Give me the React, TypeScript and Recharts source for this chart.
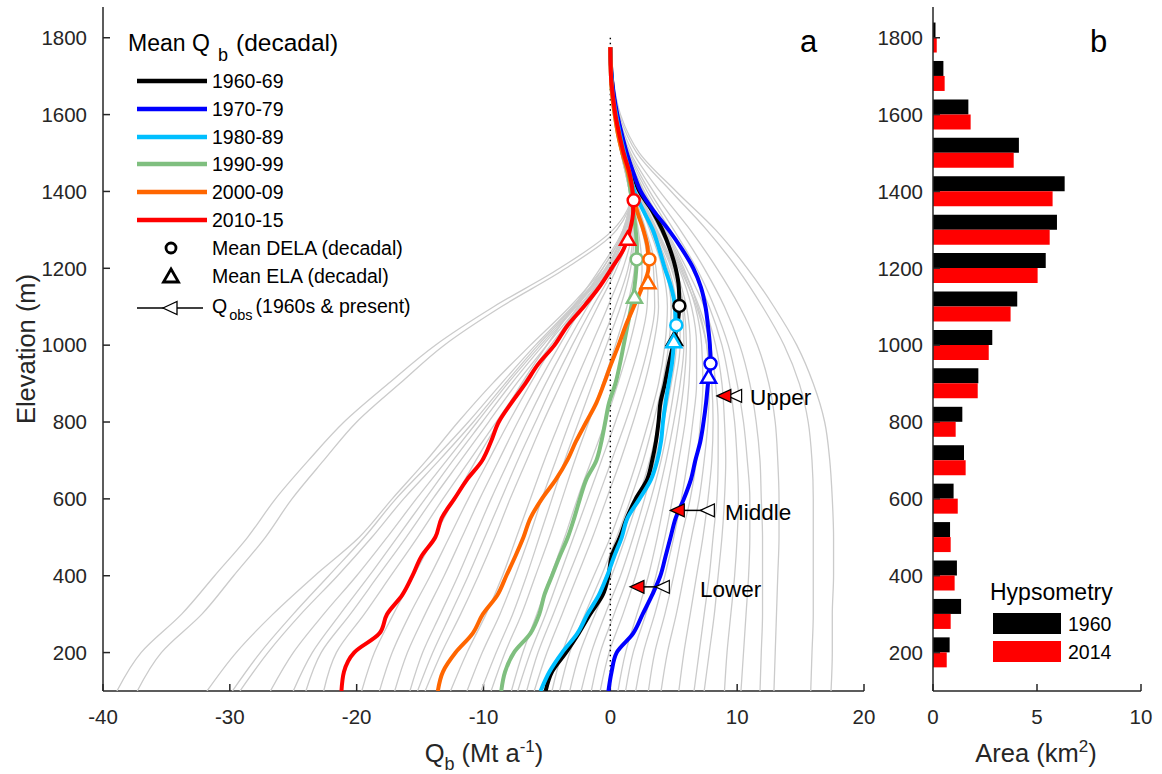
import React from "react";
import { ScatterChart, Scatter, XAxis, YAxis, BarChart, Bar } from "recharts";

const FONT = "'Liberation Sans', Arial, Helvetica, sans-serif";
const AXIS_COLOR = "#262626";

// decadal mean Qb profiles (Mt/a) sampled at these elevations (m)
const DECADES = ["1960-69", "1970-79", "1980-89", "1990-99", "2000-09", "2010-15"];
const DECADE_COLORS = ["#000000", "#0000ff", "#00bfff", "#7fbf7f", "#ff6600", "#ff0000"];
const ELEV_MEAN = [
  100, 150, 200, 250, 300, 350, 400, 450, 500, 550, 600, 650, 700, 750, 800, 850, 900,
  950, 1000, 1050, 1100, 1150, 1200, 1250, 1300, 1350, 1400, 1450, 1500, 1550, 1600,
  1650, 1700, 1775,
];
const Q_1960S = [
  -5.1, -4.6, -3.5, -2.5, -1.6, -0.6, -0.15, 0.1, 0.75, 1.3, 2.0, 2.9, 3.3, 3.6, 3.8,
  3.95, 4.3, 4.6, 4.95, 5.25, 5.44, 5.4, 5.15, 4.7, 4.1, 3.3, 2.3, 1.75, 1.25, 0.85,
  0.5, 0.25, 0.1, 0,
];
const Q_1970S = [
  -0.15, 0.1, 0.5, 1.8, 2.55, 3.3, 3.95, 4.35, 4.75, 5.15, 5.8, 6.35, 6.7, 7.1, 7.35,
  7.55, 7.7, 7.9, 7.85, 7.7, 7.5, 7.15, 6.55, 5.65, 4.6, 3.4, 2.4, 1.8, 1.3, 0.9, 0.55,
  0.28, 0.1, 0,
];
const Q_1980S = [
  -5.5, -4.8, -3.8, -2.6, -1.8, -0.9, -0.25, 0.3, 0.9, 1.35, 2.3, 3.2, 3.7, 4.0, 4.15,
  4.35, 4.6, 4.85, 5.0, 5.15, 5.1, 4.8, 4.3, 3.85, 3.35, 2.6, 1.9, 1.5, 1.1, 0.75, 0.45,
  0.2, 0.08, 0,
];
const Q_1990S = [
  -8.6, -8.3, -7.6, -6.3, -5.6, -5.2, -4.6, -4.0, -3.35, -2.85, -2.4, -1.9, -1.1, -0.7,
  -0.4, -0.1, 0.4, 0.75, 1.05, 1.35, 1.65, 1.9, 2.05, 2.1, 2.0, 1.8, 1.6, 1.35, 0.95,
  0.6, 0.35, 0.15, 0.05, 0,
];
const Q_2000S = [
  -13.6, -13.2, -12.2, -10.85, -10.05, -8.9, -8.2, -7.5, -6.85, -6.3, -5.4, -4.3, -3.4,
  -2.7, -1.9, -1.1, -0.5, 0.05, 0.65, 1.2, 1.85, 2.5, 3.0, 2.95, 2.6, 2.1, 1.75, 1.4,
  0.95, 0.6, 0.35, 0.15, 0.05, 0,
];
const Q_2010S = [
  -21.2, -21.0, -20.2, -18.2, -17.6, -16.4, -15.6, -14.9, -13.8, -13.3, -12.3, -11.3,
  -10.1, -9.4, -8.8, -7.8, -6.7, -5.7, -4.4, -3.4, -2.1, -0.9, 0.1, 1.05, 1.55, 1.8,
  1.75, 1.5, 1.05, 0.7, 0.4, 0.2, 0.05, 0,
];
const MEAN_Q = [Q_1960S, Q_1970S, Q_1980S, Q_1990S, Q_2000S, Q_2010S];

// decadal mean DELA and ELA markers
const DELA_Q = [5.44, 7.9, 5.2, 2.08, 3.08, 1.84];
const DELA_ELEV = [1102, 952, 1052, 1223, 1223, 1377];
const ELA_Q = [5.05, 7.75, 5.0, 1.9, 2.97, 1.36];
const ELA_ELEV = [1016, 918, 1010, 1126, 1164, 1277];

// observed fluxes at the three gates (1960s vs present)
const QOBS_LABELS = ["Upper", "Middle", "Lower"];
const QOBS_ELEV = [868, 570, 371];
const QOBS_1960S = [9.8, 7.65, 4.1];
const QOBS_PRESENT = [8.95, 5.28, 2.1];

// annual Qb profiles (grey), sampled at these elevations
const ELEV_GRAY = [100, 200, 300, 400, 500, 600, 700, 800, 900, 1000, 1100, 1200, 1300, 1400, 1500, 1600, 1700, 1775];
const GRAY_PROFILES = [
  [-38.9, -37.0, -33.8, -31.2, -28.6, -26.4, -23.8, -21.0, -17.5, -13.8, -9.2, -4.0, 0.2, 1.7, 1.1, 0.4, 0.1, 0],
  [-37.3, -35.4, -32.2, -29.7, -27.2, -25.1, -22.6, -20.0, -16.6, -13.1, -8.6, -3.5, 0.5, 1.7, 1.1, 0.4, 0.1, 0],
  [-31.8, -29.5, -26.6, -23.3, -19.8, -17.2, -14.5, -12.0, -9.3, -6.3, -3.2, -0.6, 1.0, 1.6, 1.1, 0.45, 0.1, 0],
  [-29.8, -27.6, -25.0, -22.2, -19.4, -16.9, -14.0, -11.2, -8.6, -5.9, -3.0, -0.4, 1.1, 1.6, 1.0, 0.4, 0.1, 0],
  [-29.2, -27.0, -24.4, -21.5, -18.8, -16.3, -13.5, -10.8, -8.3, -5.7, -2.9, -0.3, 1.1, 1.6, 1.0, 0.4, 0.1, 0],
  [-26.8, -25.0, -22.6, -20.0, -17.6, -15.3, -12.9, -10.5, -8.1, -5.5, -2.8, -0.3, 1.1, 1.6, 1.0, 0.4, 0.1, 0],
  [-25.0, -23.5, -21.3, -19.0, -16.8, -14.6, -12.4, -10.1, -7.8, -5.3, -2.7, -0.2, 1.1, 1.6, 1.0, 0.4, 0.1, 0],
  [-24.0, -22.8, -20.5, -18.3, -16.1, -14.0, -11.8, -9.6, -7.4, -5.0, -2.5, -0.1, 1.2, 1.6, 1.0, 0.4, 0.1, 0],
  [-22.6, -21.6, -19.4, -17.3, -15.2, -13.2, -11.1, -9.0, -6.9, -4.7, -2.4, 0.0, 1.2, 1.6, 1.0, 0.4, 0.1, 0],
  [-19.6, -18.6, -17.1, -15.5, -13.9, -12.3, -10.6, -8.8, -7.0, -5.0, -2.9, -0.8, 1.0, 1.6, 0.95, 0.35, 0.08, 0],
  [-18.2, -17.2, -15.8, -14.2, -12.7, -11.2, -9.6, -8.0, -6.3, -4.5, -2.6, -0.6, 1.1, 1.6, 0.95, 0.35, 0.08, 0],
  [-17.0, -16.0, -14.6, -13.1, -11.7, -10.3, -8.8, -7.3, -5.7, -4.0, -2.2, -0.3, 1.2, 1.6, 0.95, 0.35, 0.08, 0],
  [-15.8, -14.8, -13.4, -12.0, -10.7, -9.4, -8.0, -6.6, -5.1, -3.5, -1.8, 0.0, 1.3, 1.6, 0.9, 0.3, 0.08, 0],
  [-15.2, -14.0, -12.6, -11.2, -9.9, -8.6, -7.3, -5.9, -4.5, -3.0, -1.4, 0.3, 1.4, 1.6, 0.9, 0.3, 0.08, 0],
  [-14.6, -13.3, -11.8, -10.4, -9.1, -7.9, -6.6, -5.3, -3.9, -2.5, -1.0, 0.5, 1.5, 1.6, 0.9, 0.3, 0.08, 0],
  [-12.6, -11.3, -9.8, -8.5, -7.4, -6.3, -5.2, -4.0, -2.8, -1.5, -0.2, 1.0, 1.7, 1.5, 0.85, 0.3, 0.08, 0],
  [-11.3, -10.1, -8.7, -7.5, -6.4, -5.4, -4.3, -3.2, -2.0, -0.8, 0.4, 1.4, 1.8, 1.5, 0.85, 0.3, 0.08, 0],
  [-10.2, -9.0, -7.7, -6.6, -5.6, -4.6, -3.6, -2.5, -1.4, -0.3, 0.8, 1.6, 1.9, 1.5, 0.85, 0.3, 0.08, 0],
  [-9.4, -8.3, -7.0, -5.9, -4.8, -3.8, -2.8, -1.7, -0.6, 0.4, 1.3, 1.9, 2.0, 1.5, 0.85, 0.3, 0.08, 0],
  [-7.8, -6.9, -5.8, -4.7, -3.6, -2.6, -1.5, -0.4, 0.6, 1.5, 2.2, 2.5, 2.2, 1.6, 0.9, 0.35, 0.1, 0],
  [-7.3, -6.3, -5.1, -4.0, -2.9, -1.8, -0.7, 0.4, 1.4, 2.3, 2.9, 3.0, 2.5, 1.7, 0.9, 0.35, 0.1, 0],
  [-6.6, -5.7, -4.5, -3.3, -2.1, -1.0, 0.1, 1.2, 2.2, 3.0, 3.5, 3.4, 2.7, 1.8, 0.95, 0.35, 0.1, 0],
  [-6.0, -5.0, -3.8, -2.6, -1.4, -0.3, 0.8, 1.8, 2.7, 3.4, 3.8, 3.6, 2.8, 1.8, 0.95, 0.35, 0.1, 0],
  [-4.6, -3.8, -2.6, -1.3, 0.0, 1.1, 2.1, 3.0, 3.8, 4.3, 4.5, 4.1, 3.1, 2.0, 1.0, 0.35, 0.1, 0],
  [-4.0, -3.2, -2.0, -0.7, 0.5, 1.6, 2.6, 3.4, 4.1, 4.6, 4.8, 4.3, 3.2, 2.0, 1.0, 0.4, 0.1, 0],
  [-3.2, -2.4, -1.2, 0.1, 1.2, 2.2, 3.1, 3.8, 4.4, 4.9, 5.0, 4.5, 3.3, 2.1, 1.1, 0.4, 0.1, 0],
  [-2.3, -1.5, -0.4, 0.8, 1.8, 2.7, 3.5, 4.2, 4.8, 5.2, 5.2, 4.6, 3.4, 2.1, 1.1, 0.4, 0.1, 0],
  [-1.5, -0.8, 0.3, 1.4, 2.3, 3.2, 4.0, 4.6, 5.1, 5.5, 5.5, 4.8, 3.5, 2.2, 1.1, 0.4, 0.1, 0],
  [-0.8, -0.1, 1.0, 2.0, 2.9, 3.7, 4.4, 5.0, 5.5, 5.8, 5.7, 4.9, 3.6, 2.2, 1.1, 0.4, 0.1, 0],
  [0.6, 1.2, 2.1, 3.0, 3.7, 4.3, 4.9, 5.4, 5.8, 6.0, 5.8, 5.0, 3.6, 2.2, 1.1, 0.4, 0.1, 0],
  [1.2, 1.8, 2.8, 3.6, 4.3, 4.9, 5.4, 5.9, 6.2, 6.3, 6.0, 5.1, 3.7, 2.3, 1.2, 0.4, 0.1, 0],
  [2.0, 2.6, 3.5, 4.3, 5.0, 5.6, 6.1, 6.5, 6.8, 6.8, 6.4, 5.4, 3.9, 2.4, 1.2, 0.4, 0.1, 0],
  [3.0, 3.5, 4.3, 5.0, 5.6, 6.3, 6.8, 7.1, 7.3, 7.2, 6.7, 5.6, 4.0, 2.5, 1.3, 0.45, 0.1, 0],
  [4.0, 4.5, 5.2, 5.8, 6.4, 7.0, 7.4, 7.7, 7.8, 7.6, 6.9, 5.8, 4.3, 2.6, 1.3, 0.45, 0.1, 0],
  [5.4, 5.8, 6.3, 6.8, 7.3, 7.7, 8.0, 8.1, 8.0, 7.6, 6.8, 5.5, 4.1, 2.5, 1.2, 0.4, 0.1, 0],
  [6.6, 7.0, 7.4, 7.8, 8.1, 8.4, 8.5, 8.5, 8.3, 7.9, 7.0, 5.7, 4.2, 2.6, 1.3, 0.45, 0.1, 0],
  [7.4, 7.8, 8.2, 8.5, 8.8, 9.0, 9.1, 9.0, 8.8, 8.3, 7.4, 6.0, 4.4, 2.7, 1.3, 0.45, 0.1, 0],
  [9.0, 9.2, 9.5, 9.8, 10.0, 10.1, 10.0, 9.8, 9.4, 8.8, 7.8, 6.4, 4.7, 2.9, 1.4, 0.5, 0.12, 0],
  [10.3, 10.5, 10.7, 10.9, 11.0, 11.0, 10.8, 10.5, 10.0, 9.3, 8.2, 6.8, 5.0, 3.1, 1.5, 0.5, 0.12, 0],
  [11.8, 11.9, 12.0, 12.0, 12.0, 11.9, 11.8, 11.5, 11.0, 10.2, 9.0, 7.4, 5.5, 3.4, 1.6, 0.55, 0.15, 0],
  [12.9, 13.0, 13.1, 13.2, 13.3, 13.3, 13.2, 13.0, 12.5, 11.6, 10.2, 8.4, 6.3, 3.9, 1.8, 0.6, 0.15, 0],
  [15.8, 15.9, 16.0, 16.0, 16.0, 16.0, 15.9, 15.6, 14.9, 13.7, 12.0, 10.0, 7.6, 4.8, 2.1, 0.7, 0.2, 0],
  [17.4, 17.5, 17.5, 17.6, 17.6, 17.5, 17.3, 16.9, 16.0, 14.7, 12.9, 10.8, 8.3, 5.2, 2.3, 0.8, 0.2, 0],
];

// hypsometry (km2) per 100 m bin
const HYPSO_ELEV = [1800, 1700, 1600, 1500, 1400, 1300, 1200, 1100, 1000, 900, 800, 700, 600, 500, 400, 300, 200];
const AREA_1960 = [0.12, 0.5, 1.7, 4.13, 6.33, 5.96, 5.42, 4.05, 2.85, 2.18, 1.41, 1.49, 0.99, 0.82, 1.15, 1.35, 0.8];
const AREA_2014 = [0.18, 0.56, 1.81, 3.88, 5.75, 5.61, 5.03, 3.73, 2.68, 2.15, 1.09, 1.57, 1.19, 0.85, 1.04, 0.85, 0.66];

const Q_TICKS = [-40, -30, -20, -10, 0, 10, 20];
const ELEV_TICKS = [200, 400, 600, 800, 1000, 1200, 1400, 1600, 1800];
const AREA_TICKS = [0, 5, 10];
const ELEV_DOMAIN: [number, number] = [100, 1880];

const toPts = (qs: number[], elevs: number[]) =>
  qs.map((q, i) => ({ q, elev: elevs[i] })).reverse();

const hypsoData = HYPSO_ELEV.map((elev, i) => ({ elev, a1960: AREA_1960[i], a2014: AREA_2014[i] }));

const noDot = () => <g />;

const circleShape = (color: string) => (p: any) =>
  <circle cx={p.cx} cy={p.cy} r={6} fill="#fff" stroke={color} strokeWidth={2.5} />;

const triUpShape = (color: string) => (p: any) => (
  <path
    d={`M${p.cx},${p.cy - 7}L${p.cx + 7.5},${p.cy + 6}L${p.cx - 7.5},${p.cy + 6}Z`}
    fill="#fff"
    stroke={color}
    strokeWidth={2.5}
  />
);

const triLeftShape = (fill: string) => (p: any) => (
  <path
    d={`M${p.cx - 7},${p.cy}L${p.cx + 7},${p.cy - 6.5}L${p.cx + 7},${p.cy + 6.5}Z`}
    fill={fill}
    stroke="#000"
    strokeWidth={1.2}
  />
);

const tickStyle = { fill: AXIS_COLOR, fontSize: 20.5, fontFamily: FONT };
const lineStyle = { stroke: AXIS_COLOR, strokeWidth: 1.5 };

function FluxPanel() {
  return (
    <ScatterChart width={880} height={774} margin={{ top: 7, right: 16, bottom: 43, left: 43 }}>
      <XAxis
        type="number" dataKey="q" domain={[-40, 20]} ticks={Q_TICKS} interval={0}
        height={40} tickSize={-7} tickMargin={25} allowDataOverflow
        axisLine={lineStyle} tickLine={lineStyle} tick={tickStyle}
      />
      <XAxis
        xAxisId="top" orientation="top" type="number" domain={[-40, 20]} ticks={Q_TICKS}
        interval={0} height={0} tickSize={-7} tick={false} allowDataOverflow
        axisLine={lineStyle} tickLine={lineStyle}
      />
      <YAxis
        type="number" dataKey="elev" domain={ELEV_DOMAIN} ticks={ELEV_TICKS} interval={0}
        width={60} tickSize={-7} tickMargin={23} allowDataOverflow
        axisLine={lineStyle} tickLine={lineStyle} tick={tickStyle}
      />
      <YAxis
        yAxisId="right" orientation="right" type="number" domain={ELEV_DOMAIN} ticks={ELEV_TICKS}
        interval={0} width={0} tickSize={-7} tick={false} allowDataOverflow
        axisLine={lineStyle} tickLine={lineStyle}
      />

      {GRAY_PROFILES.map((row, i) => (
        <Scatter
          key={"g" + i}
          data={toPts(row, ELEV_GRAY)}
          line={{ stroke: "#cbcbcb", strokeWidth: 1.3 }}
          lineJointType="monotoneY"
          shape={noDot}
          isAnimationActive={false}
        />
      ))}

      <Scatter
        data={[{ q: 0, elev: 1800 }, { q: 0, elev: 100 }]}
        line={{ stroke: "#000", strokeWidth: 1.4, strokeDasharray: "1.5 3.6" }}
        shape={noDot}
        isAnimationActive={false}
      />

      {MEAN_Q.map((qs, i) => (
        <Scatter
          key={"m" + i}
          data={toPts(qs, ELEV_MEAN)}
          line={{ stroke: DECADE_COLORS[i], strokeWidth: 4 }}
          lineJointType="monotoneY"
          shape={noDot}
          isAnimationActive={false}
        />
      ))}

      {DECADES.map((d, i) => (
        <Scatter
          key={"ela" + d}
          data={[{ q: ELA_Q[i], elev: ELA_ELEV[i] }]}
          shape={triUpShape(DECADE_COLORS[i])}
          isAnimationActive={false}
        />
      ))}
      {DECADES.map((d, i) => (
        <Scatter
          key={"dela" + d}
          data={[{ q: DELA_Q[i], elev: DELA_ELEV[i] }]}
          shape={circleShape(DECADE_COLORS[i])}
          isAnimationActive={false}
        />
      ))}

      {QOBS_LABELS.map((name, i) => (
        <Scatter
          key={"qo" + name}
          data={[
            { q: QOBS_PRESENT[i], elev: QOBS_ELEV[i] },
            { q: QOBS_1960S[i], elev: QOBS_ELEV[i] },
          ]}
          line={{ stroke: "#000", strokeWidth: 1.5 }}
          shape={noDot}
          isAnimationActive={false}
        />
      ))}
      <Scatter
        data={QOBS_1960S.map((q, i) => ({ q, elev: QOBS_ELEV[i] }))}
        shape={triLeftShape("#fff")}
        isAnimationActive={false}
      />
      <Scatter
        data={QOBS_PRESENT.map((q, i) => ({ q, elev: QOBS_ELEV[i] }))}
        shape={triLeftShape("#ff0000")}
        isAnimationActive={false}
      />
    </ScatterChart>
  );
}

function HypsoPanel() {
  return (
    <BarChart
      layout="vertical" data={hypsoData} width={302} height={774}
      margin={{ top: 7, right: 21, bottom: 43, left: 23 }}
      barCategoryGap={4} barGap={0}
    >
      <XAxis
        type="number" domain={[0, 10]} ticks={AREA_TICKS} interval={0}
        height={40} tickSize={-7} tickMargin={25} allowDataOverflow
        axisLine={lineStyle} tickLine={lineStyle} tick={tickStyle}
      />
      <XAxis
        xAxisId="top" orientation="top" type="number" domain={[0, 10]} ticks={AREA_TICKS}
        interval={0} height={0} tickSize={-7} tick={false} allowDataOverflow
        axisLine={lineStyle} tickLine={lineStyle}
      />
      <YAxis
        type="number" dataKey="elev" domain={ELEV_DOMAIN} ticks={ELEV_TICKS} interval={0}
        reversed width={50} tickSize={-7} tickMargin={17} allowDataOverflow
        axisLine={lineStyle} tickLine={lineStyle} tick={tickStyle}
      />
      <YAxis
        yAxisId="right" orientation="right" type="number" dataKey="elev" domain={ELEV_DOMAIN}
        ticks={ELEV_TICKS} interval={0} reversed width={0} tickSize={-7} tick={false}
        allowDataOverflow axisLine={lineStyle} tickLine={lineStyle}
      />
      <Bar dataKey="a1960" fill="#000000" isAnimationActive={false} />
      <Bar dataKey="a2014" fill="#ff0000" isAnimationActive={false} />
    </BarChart>
  );
}

const LEG_Y = [81, 109, 137, 164, 192, 220];

function Annotations() {
  return (
    <svg
      width={1162} height={774}
      style={{ position: "absolute", left: 0, top: 0, pointerEvents: "none" }}
      fontFamily={FONT}
    >
      {/* legend of panel a */}
      <text x={128} y={51} fontSize={23} fill="#000">
        Mean Q<tspan x={218} dy={10} fontSize={18}>b</tspan>
        <tspan x={236} dy={-10} fontSize={24.5}>(decadal)</tspan>
      </text>
      {DECADES.map((d, i) => (
        <g key={d}>
          <line x1={137} x2={207} y1={LEG_Y[i]} y2={LEG_Y[i]} stroke={DECADE_COLORS[i]} strokeWidth={4.5} />
          <text x={212} y={LEG_Y[i]} dominantBaseline="central" fontSize={19.5} fill="#000">{d}</text>
        </g>
      ))}
      <circle cx={171} cy={248} r={5} fill="#fff" stroke="#000" strokeWidth={2.8} />
      <text x={212} y={248} dominantBaseline="central" fontSize={19.5}>Mean DELA (decadal)</text>
      <path d="M171,269L178.5,282L163.5,282Z" fill="#fff" stroke="#000" strokeWidth={2.8} />
      <text x={212} y={276} dominantBaseline="central" fontSize={19.5}>Mean ELA (decadal)</text>
      <line x1={137} x2={203} y1={308} y2={308} stroke="#000" strokeWidth={1.5} />
      <path d="M163,308L177,301.5L177,314.5Z" fill="#fff" stroke="#000" strokeWidth={1.3} />
      <text x={212} y={313} fontSize={19.5}>
        Q<tspan dx={2} dy={7} fontSize={14.5}>obs</tspan>
        <tspan dy={-7} dx={3}>(1960s &amp; present)</tspan>
      </text>

      {/* gate names */}
      <text x={750} y={397} dominantBaseline="central" fontSize={22.5}>Upper</text>
      <text x={725} y={512} dominantBaseline="central" fontSize={22.5}>Middle</text>
      <text x={700} y={589} dominantBaseline="central" fontSize={22.5}>Lower</text>

      {/* panel letters */}
      <text x={800} y={52} fontSize={31}>a</text>
      <text x={1090} y={52} fontSize={31}>b</text>

      {/* axis titles */}
      <text transform="translate(35,349) rotate(-90)" textAnchor="middle" fontSize={25.5} fill={AXIS_COLOR}>
        Elevation (m)
      </text>
      <text x={484} y={762} textAnchor="middle" fontSize={25.5} fill={AXIS_COLOR}>
        Q<tspan dy={8} fontSize={18}>b</tspan>
        <tspan dy={-8}> (Mt a</tspan>
        <tspan dy={-10} fontSize={17}>-1</tspan>
        <tspan dy={10}>)</tspan>
      </text>
      <text x={1036} y={762} textAnchor="middle" fontSize={25.5} fill={AXIS_COLOR}>
        Area (km<tspan dy={-10} fontSize={17}>2</tspan>
        <tspan dy={10}>)</tspan>
      </text>

      {/* legend of panel b */}
      <text x={990} y={600} fontSize={23}>Hypsometry</text>
      <rect x={993} y={613} width={68} height={21} fill="#000" />
      <text x={1068} y={624} dominantBaseline="central" fontSize={19.5}>1960</text>
      <rect x={993} y={641} width={68} height={21} fill="#ff0000" />
      <text x={1068} y={652} dominantBaseline="central" fontSize={19.5}>2014</text>
    </svg>
  );
}

export default function App() {
  return (
    <div
      style={{
        position: "absolute", left: 0, top: 0, width: 1162, height: 774,
        background: "#fff", fontFamily: FONT, overflow: "hidden",
      }}
    >
      <div style={{ position: "absolute", left: 0, top: 0 }}>
        <FluxPanel />
      </div>
      <div style={{ position: "absolute", left: 860, top: 0 }}>
        <HypsoPanel />
      </div>
      <Annotations />
    </div>
  );
}
